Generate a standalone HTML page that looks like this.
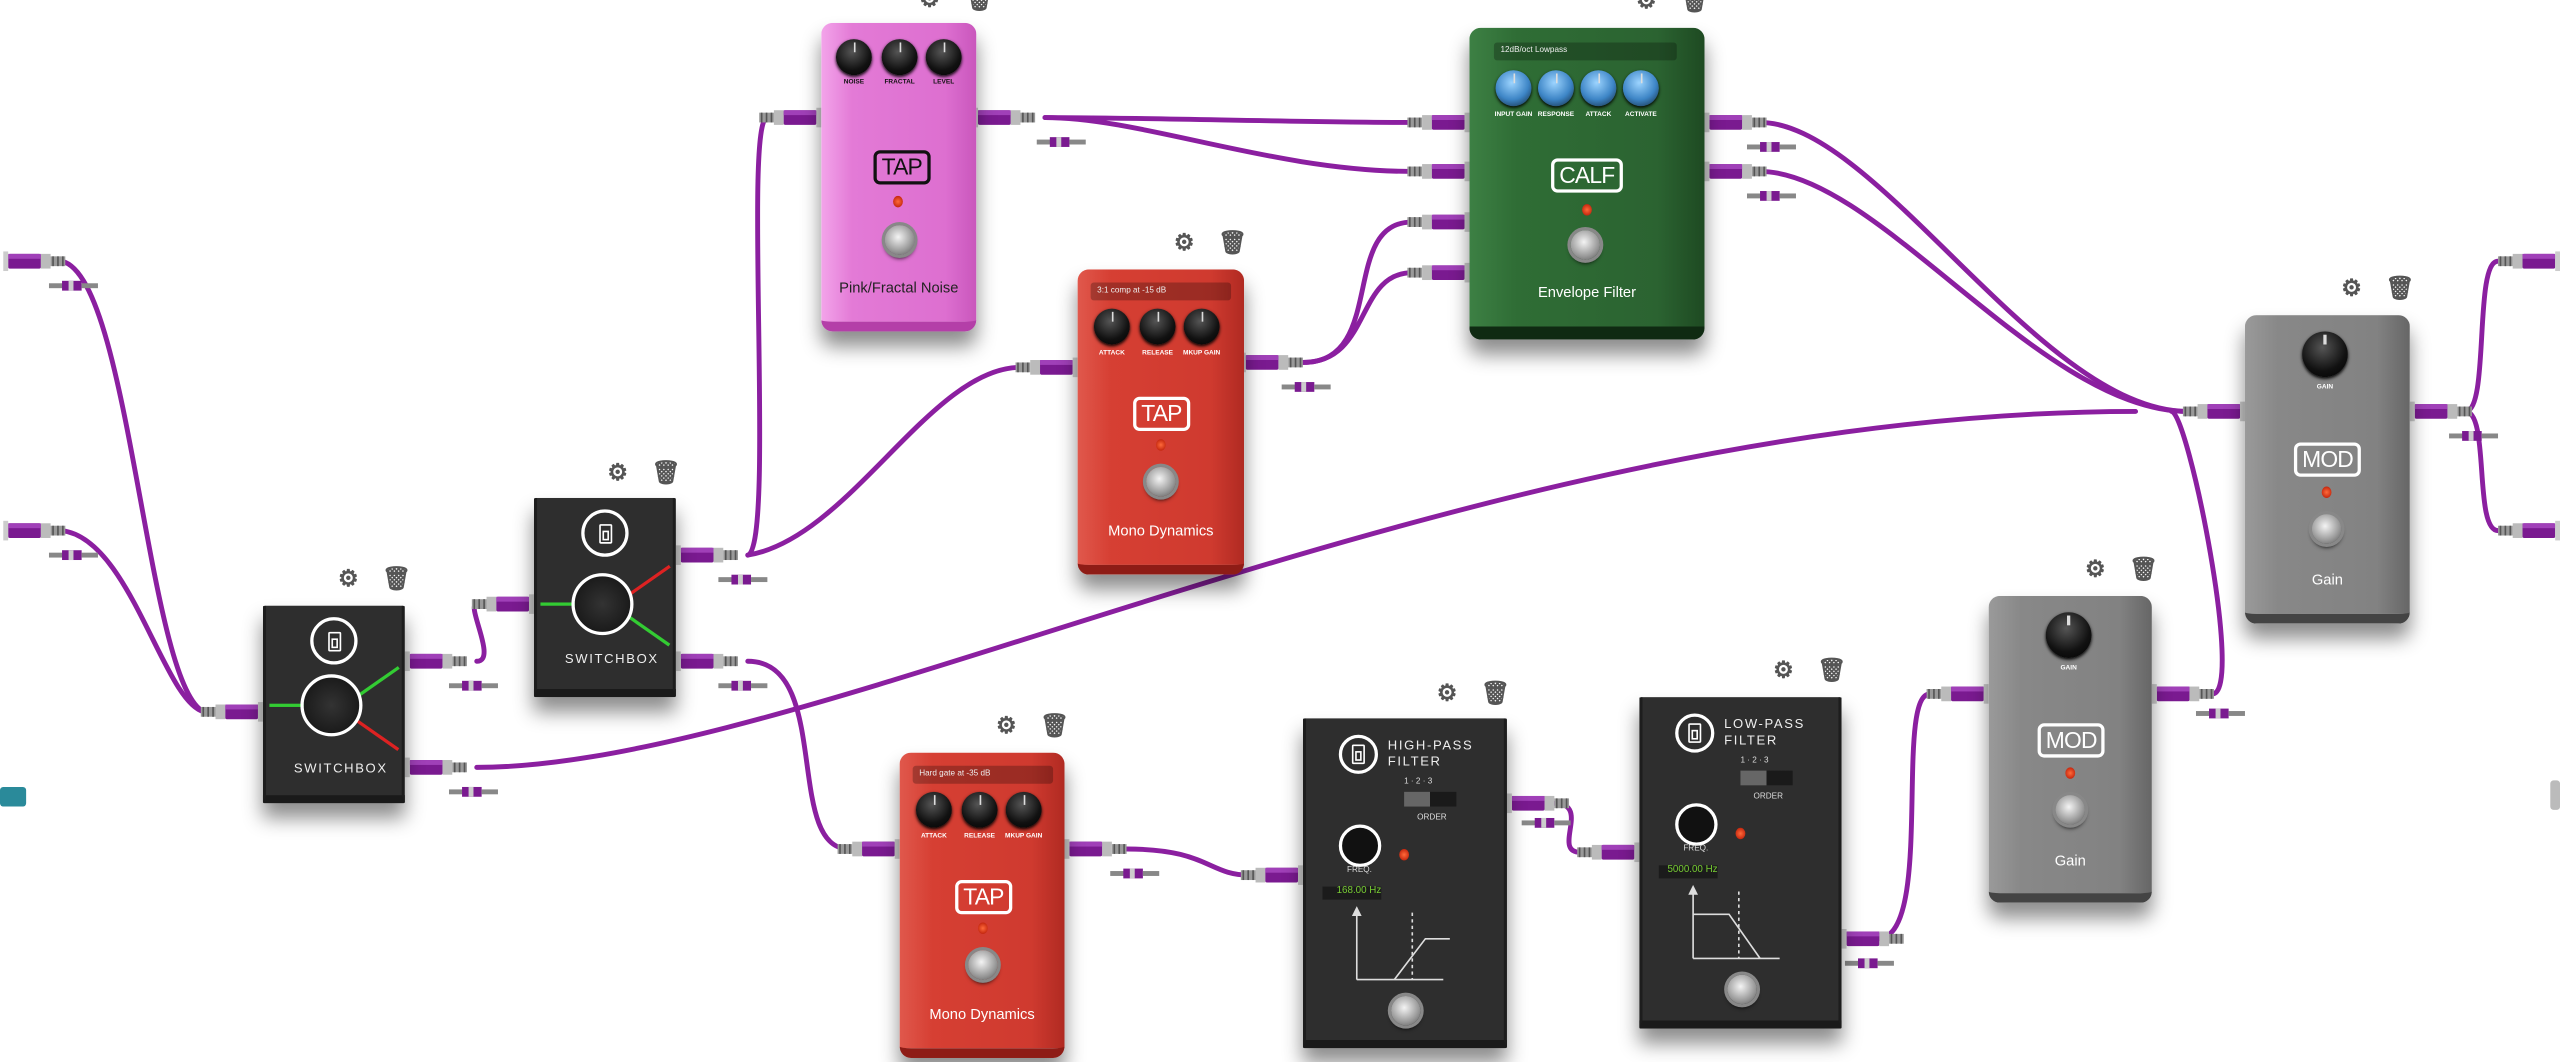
<!DOCTYPE html>
<html><head><meta charset="utf-8">
<style>
html,body{margin:0;padding:0;background:#fff;width:2560px;height:1062px;overflow:hidden}
#w{position:absolute;left:0;top:0;width:1568px;height:650px;transform:scale(1.6327);transform-origin:0 0;font-family:"Liberation Sans Narrow","Liberation Sans",sans-serif}
.p{position:absolute;border-radius:7px;box-shadow:0 9px 12px rgba(0,0,0,.45)}
.k{position:absolute;border-radius:50%;background:radial-gradient(circle at 45% 35%,#555,#111 60%,#000);box-shadow:0 1px 2px #000}
.k:after{content:"";position:absolute;left:48%;top:2px;width:1.5px;height:6px;background:#ddd}
.kb{background:radial-gradient(circle at 45% 35%,#9cd4ff,#3d85c6 55%,#123);}
.kl{position:absolute;font-size:4px;font-weight:bold;color:#111;text-align:center;width:30px;white-space:nowrap}
.led{position:absolute;width:6px;height:7px;border-radius:50%;background:radial-gradient(circle,#ff6a3a,#b01000)}
.fs{position:absolute;width:18px;height:18px;border-radius:50%;background:radial-gradient(circle at 45% 40%,#f4f4f4,#999 60%,#555);box-shadow:0 0 0 2px #888,0 2px 3px #000}
.logo{position:absolute;border:2px solid #111;border-radius:4px;font-size:14px;padding:0 3px;line-height:17px;letter-spacing:-.5px}
.nm{position:absolute;width:100%;text-align:center;font-size:9px}
.sel{position:absolute;height:11px;background:rgba(0,0,0,.25);border-radius:2px;color:#eee;font-size:5px;line-height:11px;padding-left:4px}
.ic{position:absolute;font-size:14px;color:#555;line-height:13px;font-weight:bold}
.dk{background:#2e2e2e;border-radius:1px;border-left:2px solid #1d1d1d;border-right:2px solid #1d1d1d;border-bottom:5px solid #1a1a1a;box-sizing:border-box}
.cl{position:absolute;border:2px solid #fff;border-radius:50%}
.fl{position:absolute;left:50%;top:50%;width:8px;height:12px;margin:-6px 0 0 -4px;border:1.5px solid #fff;border-radius:1px;box-sizing:border-box}
.fl:after{content:"";position:absolute;left:1px;right:1px;bottom:1px;height:4px;border:1px solid #fff}
.wt{position:absolute;color:#eee;font-size:8px;letter-spacing:1px;font-family:"Liberation Sans",sans-serif}
</style></head><body><div id="w">

<svg width="1568" height="650" style="position:absolute;left:0;top:0">
<defs>
<g id="jk"><rect x="0" y="-3" width="9" height="6" fill="#999"/><rect x="1" y="-3" width="1" height="6" fill="#555"/><rect x="4" y="-3" width="1" height="6" fill="#555"/><rect x="7" y="-3" width="1" height="6" fill="#555"/><rect x="9" y="-4.5" width="6" height="9" fill="#bbb"/><rect x="15" y="-4.5" width="20" height="9" rx="1" fill="#7a1a90"/><rect x="15" y="-4.5" width="20" height="3" fill="#a040b8"/><rect x="35" y="-6" width="3" height="12" fill="#ccc"/></g>
<g id="sp"><rect x="0" y="-1.5" width="10" height="3" fill="#888"/><rect x="8" y="-3" width="12" height="6" fill="#7a1a90"/><rect x="12" y="-3" width="3" height="6" fill="#ccc"/><rect x="20" y="-1.5" width="10" height="3" fill="#888"/></g>
</defs>
<g fill="none" stroke="#8b1fa0" stroke-width="3" stroke-linecap="round">
<path d="M38,160 C80,170 90,420 125,436"/>
<path d="M38,325 C80,330 100,430 125,436"/>
<path d="M292,405 C305,405 285,370 292,370"/>
<path d="M292,470 C500,470 900,252 1308,252"/>
<path d="M458,340 C475,335 455,72 470,72"/>
<path d="M458,340 C520,330 570,225 625,225"/>
<path d="M458,405 C510,405 480,520 520,520"/>
<path d="M640,72 C700,72 800,75 865,75"/>
<path d="M640,72 C700,72 780,105 865,105"/>
<path d="M798,222 C850,222 820,136 865,136"/>
<path d="M798,222 C840,222 830,167 865,167"/>
<path d="M1078,75 C1150,75 1250,252 1340,252"/>
<path d="M1078,105 C1150,105 1250,252 1340,252"/>
<path d="M690,520 C740,520 740,536 765,536"/>
<path d="M952,492 C975,492 950,522 968,522"/>
<path d="M1150,575 C1185,575 1160,425 1182,425"/>
<path d="M1355,425 C1375,425 1340,252 1330,252"/>
<path d="M1510,252 C1525,252 1515,160 1530,160"/>
<path d="M1510,252 C1525,252 1515,325 1530,325"/>
</g>
<use href="#jk" transform="translate(40,160) scale(-1,1)"/>
<use href="#jk" transform="translate(40,325) scale(-1,1)"/>
<use href="#jk" transform="translate(123,436)"/>
<use href="#jk" transform="translate(286,405) scale(-1,1)"/>
<use href="#jk" transform="translate(286,470) scale(-1,1)"/>
<use href="#jk" transform="translate(289,370)"/>
<use href="#jk" transform="translate(452,340) scale(-1,1)"/>
<use href="#jk" transform="translate(452,405) scale(-1,1)"/>
<use href="#jk" transform="translate(465,72)"/>
<use href="#jk" transform="translate(634,72) scale(-1,1)"/>
<use href="#jk" transform="translate(622,225)"/>
<use href="#jk" transform="translate(798,222) scale(-1,1)"/>
<use href="#jk" transform="translate(862,75)"/>
<use href="#jk" transform="translate(862,105)"/>
<use href="#jk" transform="translate(862,136)"/>
<use href="#jk" transform="translate(862,167)"/>
<use href="#jk" transform="translate(1082,75) scale(-1,1)"/>
<use href="#jk" transform="translate(1082,105) scale(-1,1)"/>
<use href="#jk" transform="translate(1337,252)"/>
<use href="#jk" transform="translate(1514,252) scale(-1,1)"/>
<use href="#jk" transform="translate(1530,160)"/>
<use href="#jk" transform="translate(1530,325)"/>
<use href="#jk" transform="translate(513,520)"/>
<use href="#jk" transform="translate(690,520) scale(-1,1)"/>
<use href="#jk" transform="translate(760,536)"/>
<use href="#jk" transform="translate(961,492) scale(-1,1)"/>
<use href="#jk" transform="translate(966,522)"/>
<use href="#jk" transform="translate(1166,575) scale(-1,1)"/>
<use href="#jk" transform="translate(1180,425)"/>
<use href="#jk" transform="translate(1356,425) scale(-1,1)"/>
<use href="#sp" transform="translate(30,175)"/>
<use href="#sp" transform="translate(30,340)"/>
<use href="#sp" transform="translate(275,420)"/>
<use href="#sp" transform="translate(275,485)"/>
<use href="#sp" transform="translate(440,355)"/>
<use href="#sp" transform="translate(440,420)"/>
<use href="#sp" transform="translate(635,87)"/>
<use href="#sp" transform="translate(785,237)"/>
<use href="#sp" transform="translate(1070,120)"/>
<use href="#sp" transform="translate(1070,90)"/>
<use href="#sp" transform="translate(1500,267)"/>
<use href="#sp" transform="translate(1345,437)"/>
<use href="#sp" transform="translate(680,535)"/>
<use href="#sp" transform="translate(932,504)"/>
<use href="#sp" transform="translate(1130,590)"/>
<rect x="0" y="482" width="16" height="12" rx="2" fill="#2a8a9a"/>
<rect x="1562" y="478" width="6" height="18" rx="2" fill="#bbb"/>
</svg>

<!-- icons -->
<div class="ic" style="left:563px;top:-7px">⚙</div><div class="ic" style="left:591px;top:-7px">🗑</div>
<div class="ic" style="left:719px;top:142px">⚙</div><div class="ic" style="left:746px;top:142px">🗑</div>
<div class="ic" style="left:1002px;top:-6px">⚙</div><div class="ic" style="left:1029px;top:-6px">🗑</div>
<div class="ic" style="left:1434px;top:170px">⚙</div><div class="ic" style="left:1461px;top:170px">🗑</div>
<div class="ic" style="left:207px;top:348px">⚙</div><div class="ic" style="left:234px;top:348px">🗑</div>
<div class="ic" style="left:372px;top:283px">⚙</div><div class="ic" style="left:399px;top:283px">🗑</div>
<div class="ic" style="left:610px;top:438px">⚙</div><div class="ic" style="left:637px;top:438px">🗑</div>
<div class="ic" style="left:880px;top:418px">⚙</div><div class="ic" style="left:907px;top:418px">🗑</div>
<div class="ic" style="left:1086px;top:404px">⚙</div><div class="ic" style="left:1113px;top:404px">🗑</div>
<div class="ic" style="left:1277px;top:342px">⚙</div><div class="ic" style="left:1304px;top:342px">🗑</div>

<!-- Pink -->
<div class="p" style="left:503px;top:14px;width:95px;height:189px;background:linear-gradient(90deg,#f3a4ea,#e37ad6 20%,#dd6fd0 80%,#c956bc);border-bottom:6px solid #b43fa8;box-sizing:border-box">
<div class="k" style="left:9px;top:10px;width:22px;height:22px"></div><div class="k" style="left:37px;top:10px;width:22px;height:22px"></div><div class="k" style="left:64px;top:10px;width:22px;height:22px"></div>
<div class="kl" style="left:5px;top:33px">NOISE</div><div class="kl" style="left:33px;top:33px">FRACTAL</div><div class="kl" style="left:60px;top:33px">LEVEL</div>
<div class="logo" style="left:32px;top:78px;color:#111">TAP</div>
<div class="led" style="left:44px;top:106px"></div>
<div class="fs" style="left:39px;top:124px"></div>
<div class="nm" style="top:157px;color:#222">Pink/Fractal Noise</div></div>

<!-- Red top -->
<div class="p" style="left:660px;top:165px;width:102px;height:187px;background:linear-gradient(90deg,#e0584c,#d63f33 20%,#cf3a2f 80%,#b02a22);border-bottom:6px solid #8e1c16;box-sizing:border-box">
<div class="sel" style="left:8px;top:8px;width:82px">3:1 comp at -15 dB</div>
<div class="k" style="left:10px;top:24px;width:22px;height:22px"></div><div class="k" style="left:38px;top:24px;width:22px;height:22px"></div><div class="k" style="left:65px;top:24px;width:22px;height:22px"></div>
<div class="kl" style="left:6px;top:48px;color:#fff">ATTACK</div><div class="kl" style="left:34px;top:48px;color:#fff">RELEASE</div><div class="kl" style="left:61px;top:48px;color:#fff">MKUP GAIN</div>
<div class="logo" style="left:34px;top:78px;color:#fff;border-color:#fff">TAP</div>
<div class="led" style="left:48px;top:104px"></div>
<div class="fs" style="left:42px;top:121px"></div>
<div class="nm" style="top:155px;color:#fff">Mono Dynamics</div></div>

<!-- Red bottom -->
<div class="p" style="left:551px;top:461px;width:101px;height:187px;background:linear-gradient(90deg,#e0584c,#d63f33 20%,#cf3a2f 80%,#b02a22);border-bottom:6px solid #8e1c16;box-sizing:border-box">
<div class="sel" style="left:8px;top:8px;width:82px">Hard gate at -35 dB</div>
<div class="k" style="left:10px;top:24px;width:22px;height:22px"></div><div class="k" style="left:38px;top:24px;width:22px;height:22px"></div><div class="k" style="left:65px;top:24px;width:22px;height:22px"></div>
<div class="kl" style="left:6px;top:48px;color:#fff">ATTACK</div><div class="kl" style="left:34px;top:48px;color:#fff">RELEASE</div><div class="kl" style="left:61px;top:48px;color:#fff">MKUP GAIN</div>
<div class="logo" style="left:34px;top:78px;color:#fff;border-color:#fff">TAP</div>
<div class="led" style="left:48px;top:104px"></div>
<div class="fs" style="left:42px;top:121px"></div>
<div class="nm" style="top:155px;color:#fff">Mono Dynamics</div></div>

<!-- Green -->
<div class="p" style="left:900px;top:17px;width:144px;height:191px;background:linear-gradient(90deg,#3d8044,#2f6d35 20%,#2b6331 80%,#1e4a22);border-bottom:8px solid #0f2a12;box-sizing:border-box">
<div class="sel" style="left:15px;top:9px;width:108px">12dB/oct Lowpass</div>
<div class="k kb" style="left:16px;top:26px;width:22px;height:22px"></div><div class="k kb" style="left:42px;top:26px;width:22px;height:22px"></div><div class="k kb" style="left:68px;top:26px;width:22px;height:22px"></div><div class="k kb" style="left:94px;top:26px;width:22px;height:22px"></div>
<div class="kl" style="left:12px;top:50px;color:#fff">INPUT GAIN</div><div class="kl" style="left:38px;top:50px;color:#fff">RESPONSE</div><div class="kl" style="left:64px;top:50px;color:#fff">ATTACK</div><div class="kl" style="left:90px;top:50px;color:#fff">ACTIVATE</div>
<div class="logo" style="left:50px;top:80px;color:#fff;border-color:#fff">CALF</div>
<div class="led" style="left:69px;top:108px"></div>
<div class="fs" style="left:62px;top:124px"></div>
<div class="nm" style="top:157px;color:#fff">Envelope Filter</div></div>

<!-- Gain top -->
<div class="p" style="left:1375px;top:193px;width:101px;height:189px;background:linear-gradient(90deg,#9a9a9a,#888 20%,#828282 80%,#666);border-bottom:6px solid #444;box-sizing:border-box">
<div class="k" style="left:35px;top:10px;width:28px;height:28px"></div>
<div class="kl" style="left:34px;top:41px;color:#fff">GAIN</div>
<div class="logo" style="left:30px;top:78px;color:#fff;border-color:#fff">MOD</div>
<div class="led" style="left:47px;top:105px"></div>
<div class="fs" style="left:41px;top:122px"></div>
<div class="nm" style="top:157px;color:#fff">Gain</div></div>

<!-- Gain bottom -->
<div class="p" style="left:1218px;top:365px;width:100px;height:188px;background:linear-gradient(90deg,#9a9a9a,#888 20%,#828282 80%,#666);border-bottom:6px solid #444;box-sizing:border-box">
<div class="k" style="left:35px;top:10px;width:28px;height:28px"></div>
<div class="kl" style="left:34px;top:41px;color:#fff">GAIN</div>
<div class="logo" style="left:30px;top:78px;color:#fff;border-color:#fff">MOD</div>
<div class="led" style="left:47px;top:105px"></div>
<div class="fs" style="left:41px;top:122px"></div>
<div class="nm" style="top:157px;color:#fff">Gain</div></div>

<!-- Switchbox 1 -->
<div class="p dk" style="left:161px;top:371px;width:87px;height:121px">
<div class="cl" style="left:27px;top:7px;width:25px;height:25px"><div class="fl"></div></div>
<div style="position:absolute;left:2px;top:60px;width:22px;height:1.5px;background:#3c3"></div>
<div style="position:absolute;left:52px;top:46px;width:32px;height:1.5px;background:#3c3;transform:rotate(-35deg)"></div>
<div style="position:absolute;left:52px;top:78px;width:32px;height:1.5px;background:#d22;transform:rotate(35deg)"></div>
<div class="cl" style="left:21px;top:42px;width:34px;height:34px;background:radial-gradient(#333,#111)"></div>
<div class="wt" style="left:17px;top:95px">SWITCHBOX</div></div>

<!-- Switchbox 2 -->
<div class="p dk" style="left:327px;top:305px;width:87px;height:122px">
<div class="cl" style="left:27px;top:7px;width:25px;height:25px"><div class="fl"></div></div>
<div style="position:absolute;left:2px;top:64px;width:22px;height:1.5px;background:#3c3"></div>
<div style="position:absolute;left:52px;top:50px;width:32px;height:1.5px;background:#d22;transform:rotate(-35deg)"></div>
<div style="position:absolute;left:52px;top:80px;width:32px;height:1.5px;background:#3c3;transform:rotate(35deg)"></div>
<div class="cl" style="left:21px;top:46px;width:34px;height:34px;background:radial-gradient(#333,#111)"></div>
<div class="wt" style="left:17px;top:94px">SWITCHBOX</div></div>

<!-- HP filter -->
<div class="p dk" style="left:798px;top:440px;width:125px;height:202px">
<div class="cl" style="left:20px;top:10px;width:20px;height:20px"><div class="fl"></div></div>
<div class="wt" style="left:50px;top:12px;line-height:10px">HIGH-PASS<br>FILTER</div>
<div style="position:absolute;left:60px;top:36px;color:#ddd;font-size:5px">1 · 2 · 3</div>
<div style="position:absolute;left:60px;top:45px;width:32px;height:9px;background:linear-gradient(90deg,#666 50%,#1a1a1a 50%)"></div>
<div style="position:absolute;left:68px;top:58px;color:#ddd;font-size:5px">ORDER</div>
<div class="cl" style="left:20px;top:65px;width:22px;height:22px;background:#111"></div>
<div class="led" style="left:57px;top:80px"></div>
<div style="position:absolute;left:25px;top:90px;color:#ddd;font-size:5px">FREQ.</div>
<div style="position:absolute;left:10px;top:103px;width:36px;height:8px;background:#1b1b1b;color:#7c3;font-size:6px;text-align:right">168.00 Hz</div>
<svg style="position:absolute;left:28px;top:115px" width="60" height="50"><g stroke="#ddd" fill="none" stroke-width="1"><path d="M3,45V4M3,45H56"/><path d="M26,45L45,20H62"/><path d="M37,4V45" stroke-dasharray="2,2"/></g><path d="M0,6L3,0L6,6Z" fill="#ddd"/></svg>
<div class="fs" style="left:52px;top:170px"></div></div>

<!-- LP filter -->
<div class="p dk" style="left:1004px;top:427px;width:124px;height:203px">
<div class="cl" style="left:20px;top:10px;width:20px;height:20px"><div class="fl"></div></div>
<div class="wt" style="left:50px;top:12px;line-height:10px">LOW-PASS<br>FILTER</div>
<div style="position:absolute;left:60px;top:36px;color:#ddd;font-size:5px">1 · 2 · 3</div>
<div style="position:absolute;left:60px;top:45px;width:32px;height:9px;background:linear-gradient(90deg,#666 50%,#1a1a1a 50%)"></div>
<div style="position:absolute;left:68px;top:58px;color:#ddd;font-size:5px">ORDER</div>
<div class="cl" style="left:20px;top:65px;width:22px;height:22px;background:#111"></div>
<div class="led" style="left:57px;top:80px"></div>
<div style="position:absolute;left:25px;top:90px;color:#ddd;font-size:5px">FREQ.</div>
<div style="position:absolute;left:10px;top:103px;width:36px;height:8px;background:#1b1b1b;color:#7c3;font-size:6px;text-align:right">5000.00 Hz</div>
<svg style="position:absolute;left:28px;top:115px" width="60" height="50"><g stroke="#ddd" fill="none" stroke-width="1"><path d="M3,45V4M3,45H56"/><path d="M3,18H25L44,45"/><path d="M31,4V45" stroke-dasharray="2,2"/></g><path d="M0,6L3,0L6,6Z" fill="#ddd"/></svg>
<div class="fs" style="left:52px;top:170px"></div></div>

</div></body></html>
